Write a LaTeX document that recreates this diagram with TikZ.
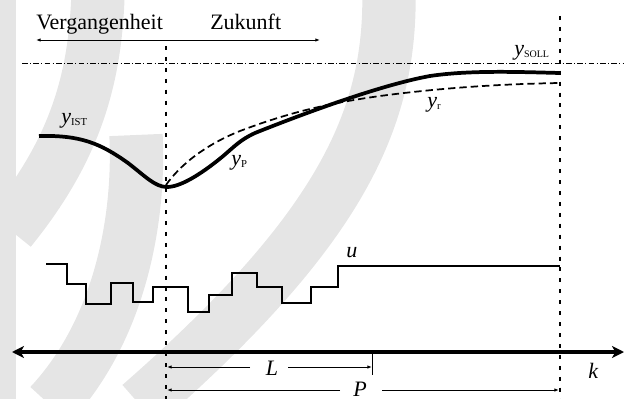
\documentclass[tikz,border=0pt]{standalone}
\usepackage{fontspec}
\setmainfont{Liberation Serif}
\usetikzlibrary{arrows.meta}
\begin{document}
\begin{tikzpicture}[x=0.75pt,y=-0.75pt,
  lbl/.style={font=\fontsize{16.5}{18}\selectfont, inner sep=0pt},
  wmark/.style={draw=black!10, line width=40pt, line cap=butt},
  dotv/.style={line width=1.5pt, dash pattern=on 3pt off 5.2pt},
  dashdot/.style={line width=0.7pt, dash pattern=on 4.2pt off 1.8pt on 0.7pt off 1.8pt},
  thickcurve/.style={line width=2.8pt, line join=round},
  predcurve/.style={line width=1.3pt, dash pattern=on 5.5pt off 3pt},
  stepline/.style={line width=1.3pt, line join=miter},
  thinarrow/.style={line width=0.7pt, {Latex[length=3.5pt,width=2.6pt]}-{Latex[length=3.5pt,width=2.6pt]}},
  dimhalf/.style={line width=0.7pt, -{Latex[length=3.5pt,width=2.6pt]}},
  kaxis/.style={line width=3pt, {Stealth[length=9pt,width=9pt,inset=2.5pt]}-{Stealth[length=9pt,width=9pt,inset=2.5pt]}}]
\useasboundingbox (0,0) rectangle (624,399);
% watermark
\fill[black!10] (0,0) rectangle (16,399);
\draw[wmark] (98,-5) .. controls (95,80) and (75,150) .. (10,230);
\draw[wmark] (136,135) .. controls (140,220) and (120,330) .. (50,405);
\draw[wmark] (389,-5) .. controls (390,120) and (340,230) .. (140,405);
% time arrow
\node[lbl, anchor=base west] (past) at (36,30) {Vergangenheit};
\node[lbl, anchor=base west] (fut) at (210,30) {Zukunft};
\coordinate (ta) at (36,40);
\coordinate (tb) at (320,40);
\draw[thinarrow] (ta) -- (tb);
% setpoint
\coordinate (s0) at (22,63);
\coordinate (s1) at (624,63);
\draw[dashdot] (s0) -- (s1);
\node[lbl, anchor=base west] (ysoll) at (514,56) {\textit{y}\raisebox{-1pt}{\fontsize{7.5}{8}\selectfont SOLL}};
% vertical lines
\coordinate (v0) at (166,46);
\coordinate (v0b) at (166,399);
\coordinate (v1) at (560,16);
\coordinate (v1b) at (560,399);
\draw[dotv] (v0) -- (v0b);
\draw[dotv] (v1) -- (v1b);
% output curve
\draw[thickcurve] (39,136) .. controls (80,135) and (100,143) .. (128,163)
  .. controls (145,176) and (155,187) .. (167,187)
  .. controls (180,187) and (200,175) .. (222,157)
  .. controls (235,146) and (240,140) .. (255,133)
  .. controls (300,115) and (380,85) .. (430,76)
  .. controls (470,70) and (520,72) .. (560,73);
\draw[predcurve] (166,185) .. controls (180,165) and (205,145) .. (240,131)
  .. controls (290,112) and (330,103) .. (380,96)
  .. controls (440,88) and (500,84) .. (560,83);
\node[lbl, anchor=base west] (yist) at (61,124) {\textit{y}\raisebox{-1pt}{\fontsize{8}{9}\selectfont IST}};
\node[lbl, anchor=base west] (yp) at (231,166) {\textit{y}\raisebox{-1pt}{\fontsize{8}{9}\selectfont P}};
\node[lbl, anchor=base west] (yr) at (427,108) {\textit{y}\raisebox{-1pt}{\fontsize{8}{9}\selectfont r}};
% control signal
\draw[stepline] (46,264) -| (67,284) -| (86,304) -| (111,283) -| (133,302) -| (153,287) -| (188,312) -| (209,295) -| (232,273) -| (257,287) -| (282,303) -| (311,287) -| (338,266) -- (560,266);
\node[lbl, anchor=base west] (u) at (346,257) {\textit{u}};
% k axis
\coordinate (k0) at (12,352);
\coordinate (k1) at (624,352);
\draw[kaxis] (k0) -- (k1);
\node[lbl, anchor=base west] (k) at (588,378) {\textit{k}};
% L dimension
\coordinate (Ltick0) at (372,352);
\coordinate (Ltick1) at (372,375);
\draw[line width=0.7pt] (Ltick0) -- (Ltick1);
\node[lbl, anchor=base] (L) at (272,375) {\textit{L}};
\coordinate (La) at (167,367);
\coordinate (Lb) at (372,367);
\coordinate (Lg0) at (250,367);
\coordinate (Lg1) at (288,367);
\draw[dimhalf] (Lg0) -- (La);
\draw[dimhalf] (Lg1) -- (Lb);
% P dimension
\node[lbl, anchor=base] (P) at (360,396) {\textit{P}};
\coordinate (Pa) at (167,390);
\coordinate (Pb) at (559,390);
\coordinate (Pg0) at (340,390);
\coordinate (Pg1) at (382,390);
\draw[dimhalf] (Pg0) -- (Pa);
\draw[dimhalf] (Pg1) -- (Pb);
\end{tikzpicture}
\end{document}
